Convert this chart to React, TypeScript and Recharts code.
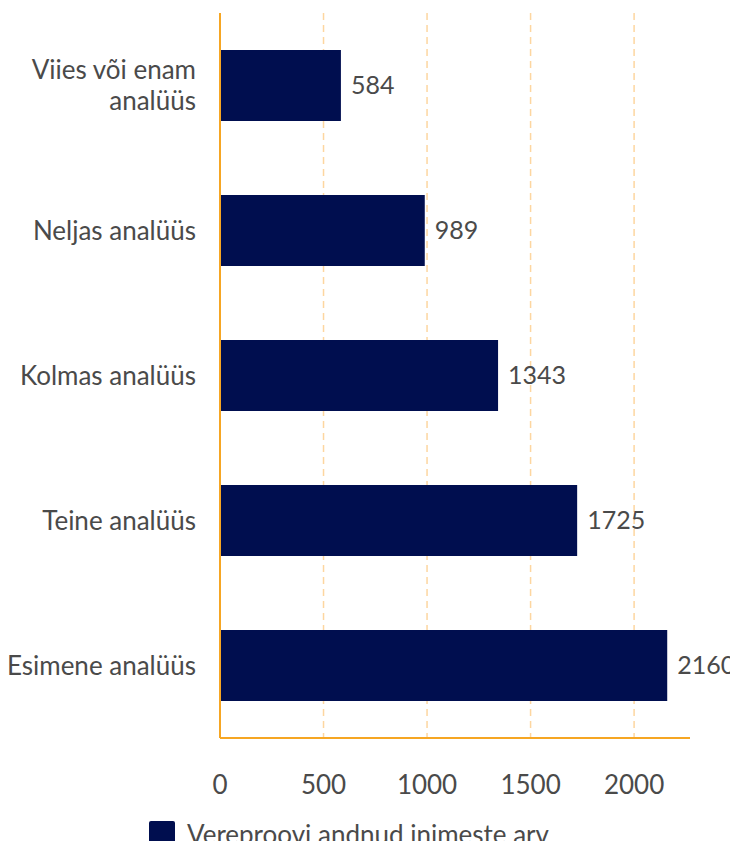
import { BarChart, Bar, XAxis, YAxis, CartesianGrid, Legend, LabelList } from 'recharts';

const categories = ['Viies või enam analüüs', 'Neljas analüüs', 'Kolmas analüüs', 'Teine analüüs', 'Esimene analüüs'];
const counts = [584, 989, 1343, 1725, 2160];
const xTicks = [0, 500, 1000, 1500, 2000];
const gridValues = [500, 1000, 1500, 2000];
const seriesName = 'Vereproovi andnud inimeste arv';

const NAVY = '#000e4f';
const ORANGE = '#f6a623';
const GRID = '#fdd6a0';
const TEXT = '#4a4a4a';
const FONT = 'Lato, "Open Sans", sans-serif';
const FS = 26;

const data = categories.map((name, i) => ({ name, value: counts[i] }));

// split long labels into two lines, like the original
function wrap(label: string): string[] {
  if (label.length <= 16) return [label];
  const words = label.split(' ');
  return [words.slice(0, -1).join(' '), words[words.length - 1]];
}

function CategoryTick(props: any) {
  const { x, y, payload } = props;
  const lines = wrap(String(payload.value));
  const lh = 31;
  const startY = y - ((lines.length - 1) * lh) / 2 + 2;
  return (
    <text x={x} y={startY} textAnchor="end" fill={TEXT} fontSize={FS} fontFamily={FONT} dominantBaseline="middle">
      {lines.map((l, i) => (
        <tspan key={i} x={x} dy={i === 0 ? 0 : lh}>
          {l}
        </tspan>
      ))}
    </text>
  );
}

function LegendContent() {
  return (
    <div style={{ display: 'flex', alignItems: 'center', fontFamily: FONT, fontSize: FS, color: TEXT, lineHeight: '30px' }}>
      <span style={{ width: 26, height: 26, background: NAVY, borderRadius: 2, marginRight: 12, display: 'inline-block' }} />
      <span>{seriesName}</span>
    </div>
  );
}

export default function App() {
  return (
    <div style={{ margin: -8, width: 738, height: 849, overflow: 'hidden', background: '#fff' }}>
      <BarChart
        width={738}
        height={880}
        data={data}
        layout="vertical"
        barSize={71}
        margin={{ top: 13, right: 48, left: 0, bottom: 31 }}
      >
        <CartesianGrid horizontal={false} verticalValues={gridValues} stroke={GRID} strokeDasharray="7 5" strokeWidth={1.5} />
        <XAxis
          type="number"
          domain={[0, 2270]}
          ticks={xTicks}
          axisLine={{ stroke: ORANGE, strokeWidth: 2 }}
          tickLine={false}
          tickMargin={32}
          height={81}
          tick={{ fill: TEXT, fontSize: FS, fontFamily: FONT }}
        />
        <YAxis
          type="category"
          dataKey="name"
          width={220}
          axisLine={{ stroke: ORANGE, strokeWidth: 2 }}
          tickLine={false}
          tickMargin={18}
          tick={<CategoryTick />}
        />
        <Legend verticalAlign="bottom" align="left" content={<LegendContent />} wrapperStyle={{ left: 149, height: 30 }} />
        <Bar dataKey="value" name={seriesName} fill={NAVY} isAnimationActive={false}>
          <LabelList dataKey="value" position="right" offset={10} fill={TEXT} fontSize={25} fontFamily={FONT} />
        </Bar>
      </BarChart>
    </div>
  );
}
